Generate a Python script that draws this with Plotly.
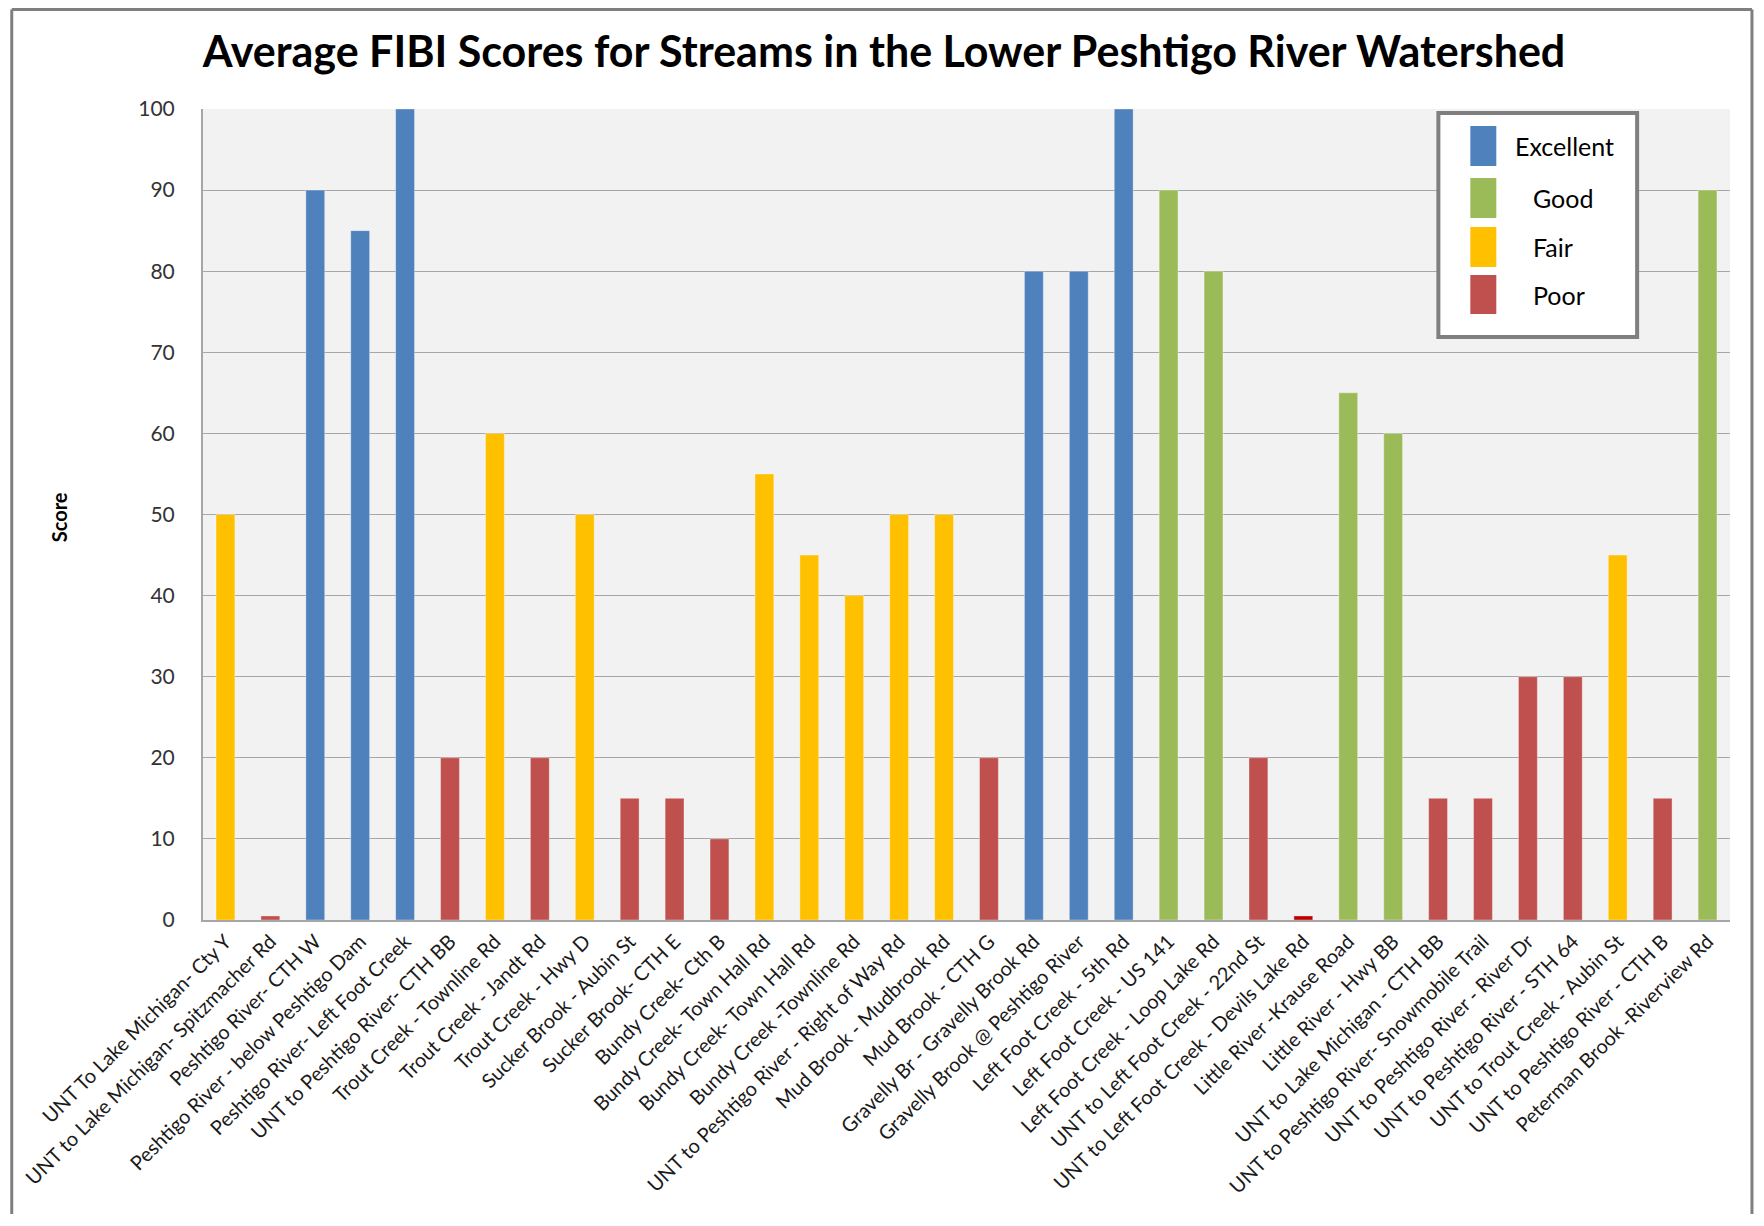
import plotly.graph_objects as go

sites = [
    "UNT To Lake Michigan- Cty Y",
    "UNT to Lake Michigan- Spitzmacher Rd",
    "Peshtigo River- CTH W",
    "Peshtigo River - below Peshtigo Dam",
    "Peshtigo River- Left Foot Creek",
    "UNT to Peshtigo River- CTH BB",
    "Trout Creek - Townline Rd",
    "Trout Creek - Jandt Rd",
    "Trout Creek - Hwy D",
    "Sucker Brook - Aubin St",
    "Sucker Brook- CTH E",
    "Bundy Creek- Cth B",
    "Bundy Creek- Town Hall Rd",
    "Bundy Creek- Town Hall Rd",
    "Bundy Creek -Townline Rd",
    "UNT to Peshtigo River - Right of Way Rd",
    "Mud Brook - Mudbrook Rd",
    "Mud Brook - CTH G",
    "Gravelly Br - Gravelly Brook Rd",
    "Gravelly Brook @ Peshtigo River",
    "Left Foot Creek - 5th Rd",
    "Left Foot Creek - US 141",
    "Left Foot Creek - Loop Lake Rd",
    "UNT to Left Foot Creek - 22nd St",
    "UNT to Left Foot Creek - Devils Lake Rd",
    "Little River -Krause Road",
    "Little River - Hwy BB",
    "UNT to Lake Michigan - CTH BB",
    "UNT to Peshtigo River- Snowmobile Trail",
    "UNT to Peshtigo River - River Dr",
    "UNT to Peshtigo River - STH 64",
    "UNT to Trout Creek - Aubin St",
    "UNT to Peshtigo River - CTH B",
    "Peterman Brook -Riverview Rd",
]
scores = [50, 0.5, 90, 85, 100, 20, 60, 20, 50, 15, 15, 10, 55, 45, 40, 50, 50, 20,
          80, 80, 100, 90, 80, 20, 0.5, 65, 60, 15, 15, 30, 30, 45, 15, 90]
ratings = ["Fair", "Poor", "Excellent", "Excellent", "Excellent", "Poor", "Fair", "Poor",
           "Fair", "Poor", "Poor", "Poor", "Fair", "Fair", "Fair", "Fair", "Fair", "Poor",
           "Excellent", "Excellent", "Excellent", "Good", "Good", "Poor", "Poor", "Good",
           "Good", "Poor", "Poor", "Poor", "Poor", "Fair", "Poor", "Good"]
rating_order = ["Excellent", "Good", "Fair", "Poor"]
rating_colors = {"Excellent": "#4F81BD", "Good": "#9BBB59", "Fair": "#FFC000", "Poor": "#C0504D"}
special_color = {24: "#C00000"}  # Devils Lake Rd bar drawn in darker red
y_ticks = list(range(0, 101, 10))

FONT = "Lato"
OFF = 8          # default page body margin
FW, FH = 1746, 1206  # figure size that fits inside the viewport with the body margin
fig = go.Figure()
idx = list(range(len(sites)))
for r in rating_order:
    xs = [i for i in idx if ratings[i] == r]
    ys = [scores[i] for i in xs]
    cols = [special_color.get(i, rating_colors[r]) for i in xs]
    fig.add_trace(go.Bar(
        x=xs, y=ys, name=r, width=0.42, showlegend=False,
        marker=dict(color=cols, line=dict(color="rgba(255,255,255,0.35)", width=1)),
    ))

# plot area in page pixels
PL, PR, PT, PB = 201, 1730, 109, 920
fig.update_layout(
    width=FW, height=FH,
    margin=dict(l=PL - OFF, r=FW - (PR - OFF), t=PT - OFF, b=FH - (PB - OFF)),
    paper_bgcolor="white", plot_bgcolor="#F2F2F2",
    barmode="overlay",
    font=dict(family=FONT, color="#222222"),
    title=dict(text="<b>Average FIBI Scores for Streams in the Lower Peshtigo River Watershed</b>",
               x=(884 - OFF) / FW, xanchor="center", y=1 - (52 - OFF) / FH, yanchor="middle",
               font=dict(size=43, color="black", family=FONT)),
    xaxis=dict(
        range=[-0.5, len(sites) - 0.5], tickmode="array", tickvals=idx, ticktext=sites,
        tickangle=-45, tickfont=dict(size=20, color="#1a1a1a"), showgrid=False,
        showline=True, linecolor="#A6A6A6", linewidth=2, ticks="", zeroline=False,
    ),
    yaxis=dict(
        range=[0, 100], tickmode="array", tickvals=y_ticks, tickfont=dict(size=21, color="#333333"),
        showgrid=True, gridcolor="#A6A6A6", gridwidth=1, showline=True, linecolor="#A6A6A6",
        linewidth=2, ticks="", ticklabelstandoff=22, zeroline=False,
    ),
)

W, H = float(PR - PL), float(PB - PT)
def px(x):
    return (x - PL) / W
def py(y):
    return (PB - y) / H

# y axis title
fig.add_annotation(xref="paper", yref="paper", x=px(57), y=py(517), text="<b>Score</b>",
                   textangle=-90, showarrow=False, xanchor="center", yanchor="middle",
                   font=dict(size=20, color="black", family=FONT))

# outer chart border
BL, BT, BR = 9.5, 9.5, 1752
for (x0, y0, x1, y1) in [(BL, BT, BL, 1240), (BL, BT, BR, BT), (BR, BT, BR, 1240)]:
    fig.add_shape(type="line", xref="paper", yref="paper", x0=px(x0), y0=py(y0), x1=px(x1), y1=py(y1),
                  line=dict(color="#7F7F7F", width=3))

# legend box (manual, to match large swatches)
fig.add_shape(type="rect", xref="paper", yref="paper", x0=px(1438), x1=px(1637), y0=py(337), y1=py(113),
              fillcolor="white", line=dict(color="#7F7F7F", width=4))
legend_rows = [("Excellent", 126, 166, 1513), ("Good", 178, 218, 1531), ("Fair", 227, 267, 1531), ("Poor", 275, 314, 1531)]
for name, t, b, tx in legend_rows:
    fig.add_shape(type="rect", xref="paper", yref="paper", x0=px(1470), x1=px(1496), y0=py(b), y1=py(t),
                  fillcolor=rating_colors[name], line=dict(width=0))
    fig.add_annotation(xref="paper", yref="paper", x=px(tx), y=py((t + b) / 2), text=name,
                       showarrow=False, xanchor="left", yanchor="middle",
                       font=dict(size=25, color="black", family=FONT))

fig.write_html("out.html")
